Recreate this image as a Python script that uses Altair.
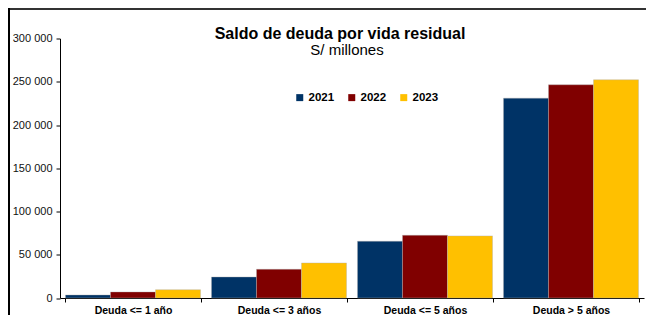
import altair as alt
import pandas as pd

categories = ["Deuda <= 1 año", "Deuda <= 3 años", "Deuda <= 5 años", "Deuda > 5 años"]
years = ["2021", "2022", "2023"]
v2021 = [3500, 24300, 65600, 231000]
v2022 = [7000, 33200, 72500, 246500]
v2023 = [9600, 40500, 71800, 252300]
colors = ["#003366", "#800000", "#FFC000"]
y_ticks = [0, 50000, 100000, 150000, 200000, 250000, 300000]
title_text = "Saldo de deuda por vida residual"
subtitle_text = "S/ millones"

rows = []
for yr, vals in zip(years, [v2021, v2022, v2023]):
    for c, v in zip(categories, vals):
        rows.append({"cat": c, "year": yr, "value": v})
df = pd.DataFrame(rows)

FONT = "Liberation Sans"

bars = alt.Chart(df).mark_bar(stroke="#b0b0b0", strokeWidth=0.4).encode(
    x=alt.X("cat:N", sort=categories,
            scale=alt.Scale(paddingInner=0.075, paddingOuter=0.0375),
            axis=alt.Axis(title=None, labelAngle=0, labelFont=FONT, labelFontSize=10.5,
                          labelFontWeight="bold", labelColor="#000", tickBand="extent",
                          tickSize=4, tickColor="#000", domainColor="#000",
                          labelPadding=3)),
    xOffset=alt.XOffset("year:N", sort=years, scale=alt.Scale(paddingInner=0, paddingOuter=0)),
    y=alt.Y("value:Q", scale=alt.Scale(domain=[0, 300000], nice=False),
            axis=alt.Axis(title=None, values=y_ticks, grid=False, labelFont=FONT,
                          labelFontSize=11, labelColor="#111", tickSize=4, tickColor="#000",
                          domainColor="#000", labelPadding=4,
                          labelExpr="replace(format(datum.value, ',d'), ',', ' ')")),
    color=alt.Color("year:N", sort=years, scale=alt.Scale(domain=years, range=colors),
                    legend=alt.Legend(title=None, orient="none", legendX=234, legendY=53,
                                      direction="horizontal", symbolType="square",
                                      symbolSize=49, symbolStrokeWidth=0,
                                      labelFont=FONT, labelFontSize=11.5,
                                      labelFontWeight="bold", labelColor="#000",
                                      columnPadding=11, labelOffset=3)),
)

title = alt.Chart(pd.DataFrame({"t": [title_text]})).mark_text(
    font=FONT, fontSize=16, fontWeight="bold", color="#000", align="center",
    baseline="alphabetic").encode(text="t:N", x=alt.value(280), y=alt.value(0.5))

subtitle = alt.Chart(pd.DataFrame({"t": [subtitle_text]})).mark_text(
    font=FONT, fontSize=15, color="#000", align="center",
    baseline="alphabetic").encode(text="t:N", x=alt.value(287), y=alt.value(16.5))

top_line = alt.Chart(pd.DataFrame({"a": [0]})).mark_rule(color="#333", strokeWidth=2).encode(
    x=alt.value(-52), x2=alt.value(594), y=alt.value(-29.5))
left_line = alt.Chart(pd.DataFrame({"a": [0]})).mark_rule(color="#000", strokeWidth=2).encode(
    x=alt.value(-51), y=alt.value(-30.5), y2=alt.value(290))

chart = alt.layer(bars, title, subtitle, top_line, left_line).properties(
    width=584, height=259.5,
    autosize=alt.AutoSizeParams(type="none"),
    padding={"left": 52, "top": 30.5, "right": 2, "bottom": 22},
).configure_view(stroke=None)

chart.save("out.html", embed_options={"renderer": "svg", "actions": False})
